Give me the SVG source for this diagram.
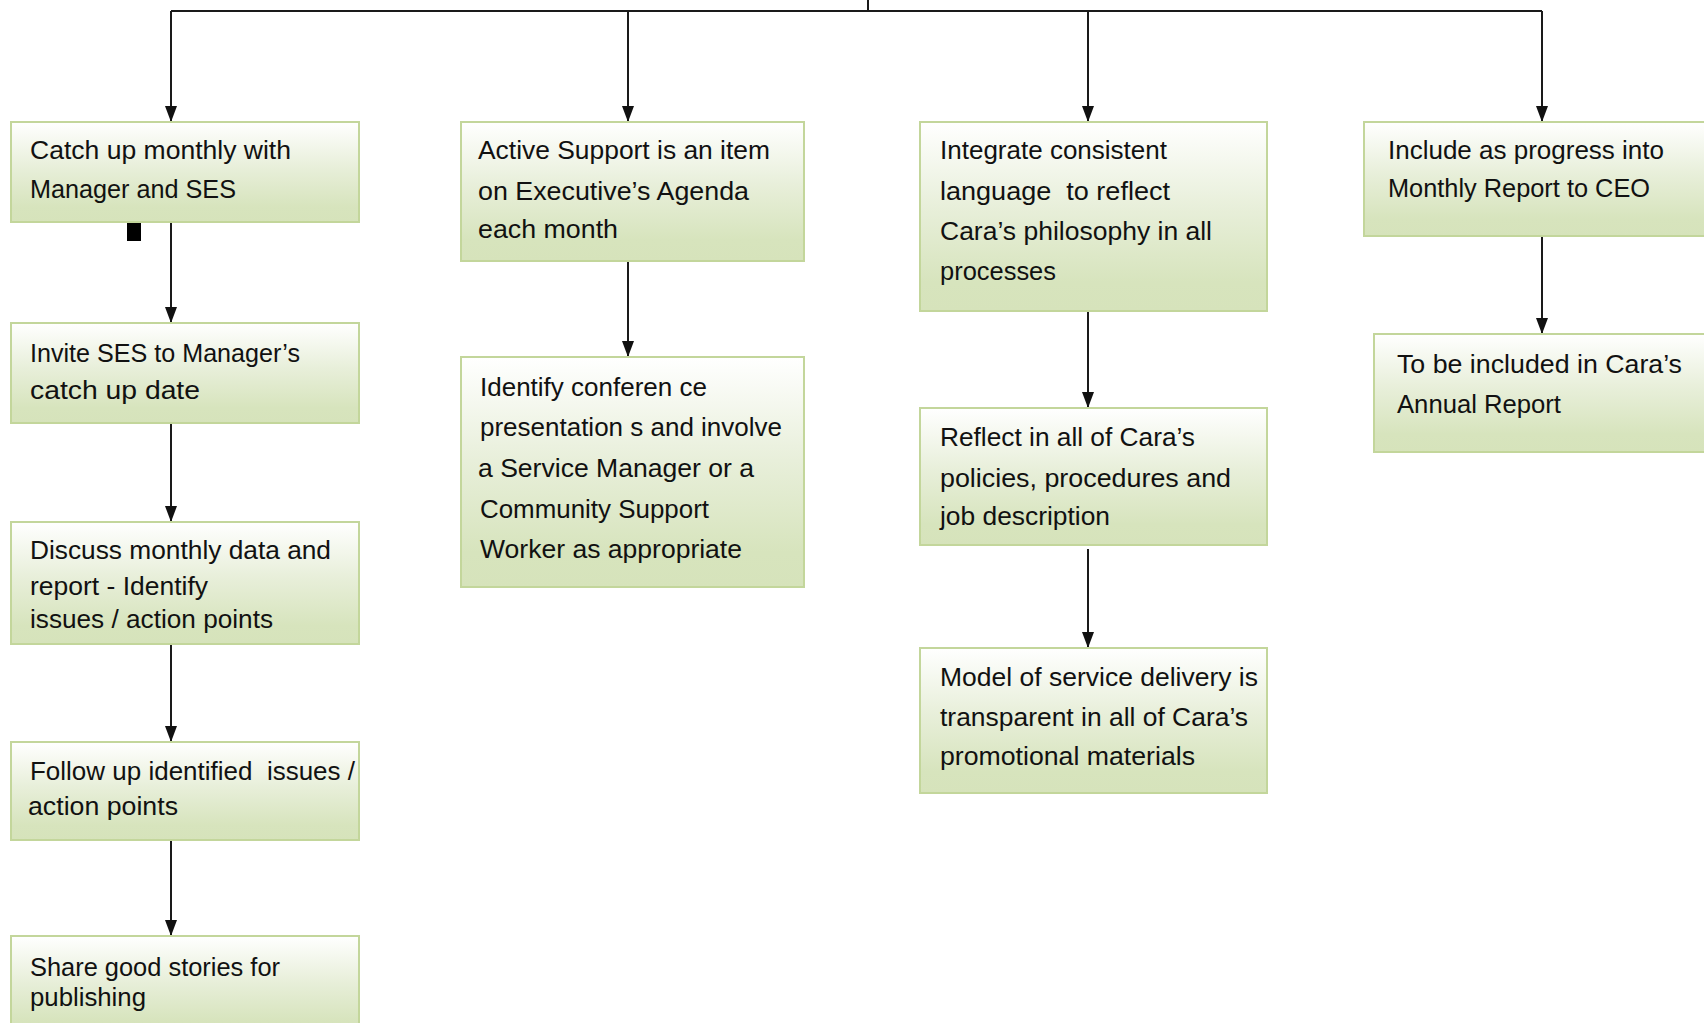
<svg xmlns="http://www.w3.org/2000/svg" width="1704" height="1023" viewBox="0 0 1704 1023">
<defs>
<linearGradient id="g" x1="0" y1="0" x2="0" y2="1">
<stop offset="0" stop-color="#ffffff"/>
<stop offset="0.45" stop-color="#e8efda"/>
<stop offset="0.85" stop-color="#d7e4bd"/>
<stop offset="1" stop-color="#d6e3bb"/>
</linearGradient>
<marker id="ah" markerUnits="userSpaceOnUse" markerWidth="16" markerHeight="12" viewBox="0 0 16 12" refX="16" refY="6" orient="auto">
<path d="M0,0 L16,6 L0,12 Z" fill="#111"/>
</marker>
<style>
.box{fill:url(#g);stroke:#c3d69b;stroke-width:2}
.t{font-family:"Century Gothic","Liberation Sans",Arial,sans-serif;font-size:25px;fill:#111;white-space:pre}
.c{fill:none;stroke:#1a1a1a;stroke-width:2}
.a{marker-end:url(#ah)}
</style>
</defs>
<rect width="1704" height="1023" fill="#ffffff"/>

<g id="connectors">
<path class="c" d="M171,11 H1542"/>
<path class="c" d="M868,0 V11"/>
<path class="c a" d="M171,11 V122"/>
<path class="c a" d="M628,11 V122"/>
<path class="c a" d="M1088,11 V122"/>
<path class="c a" d="M1542,11 V122"/>
<path class="c a" d="M171,222 V323"/>
<path class="c a" d="M171,423 V522"/>
<path class="c a" d="M171,644 V742"/>
<path class="c a" d="M171,840 V936"/>
<path class="c a" d="M628,261 V357"/>
<path class="c a" d="M1088,311 V408"/>
<path class="c a" d="M1088,549 V648"/>
<path class="c a" d="M1542,236 V334"/>
<rect x="127" y="223" width="14" height="18" fill="#000"/>
</g>

<g id="n1">
<rect class="box" x="11" y="122" width="348" height="100"/>
<text class="t" x="30" y="159" textLength="261" lengthAdjust="spacingAndGlyphs">Catch up monthly with</text>
<text class="t" x="30" y="198" textLength="206" lengthAdjust="spacingAndGlyphs">Manager and SES</text>
</g>
<g id="n2">
<rect class="box" x="11" y="323" width="348" height="100"/>
<text class="t" x="30" y="362" textLength="270" lengthAdjust="spacingAndGlyphs">Invite SES to Manager’s</text>
<text class="t" x="30" y="399" textLength="170" lengthAdjust="spacingAndGlyphs">catch up date</text>
</g>
<g id="n3">
<rect class="box" x="11" y="522" width="348" height="122"/>
<text class="t" x="30" y="559" textLength="301" lengthAdjust="spacingAndGlyphs">Discuss monthly data and</text>
<text class="t" x="30" y="595" textLength="178" lengthAdjust="spacingAndGlyphs">report - Identify</text>
<text class="t" x="30" y="628" textLength="243" lengthAdjust="spacingAndGlyphs">issues / action points</text>
</g>
<g id="n4">
<rect class="box" x="11" y="742" width="348" height="98"/>
<text class="t" x="30" y="780" textLength="325" lengthAdjust="spacingAndGlyphs">Follow up identified  issues /</text>
<text class="t" x="28" y="815" textLength="150" lengthAdjust="spacingAndGlyphs">action points</text>
</g>
<g id="n5">
<rect class="box" x="11" y="936" width="348" height="100"/>
<text class="t" x="30" y="976" textLength="250" lengthAdjust="spacingAndGlyphs">Share good stories for</text>
<text class="t" x="30" y="1006" textLength="116" lengthAdjust="spacingAndGlyphs">publishing</text>
</g>

<g id="n6">
<rect class="box" x="461" y="122" width="343" height="139"/>
<text class="t" x="478" y="159" textLength="292" lengthAdjust="spacingAndGlyphs">Active Support is an item</text>
<text class="t" x="478" y="200" textLength="271" lengthAdjust="spacingAndGlyphs">on Executive’s Agenda</text>
<text class="t" x="478" y="238" textLength="140" lengthAdjust="spacingAndGlyphs">each month</text>
</g>
<g id="n7">
<rect class="box" x="461" y="357" width="343" height="230"/>
<text class="t" x="480" y="396" textLength="227" lengthAdjust="spacingAndGlyphs">Identify conferen ce</text>
<text class="t" x="480" y="436" textLength="302" lengthAdjust="spacingAndGlyphs">presentation s and involve</text>
<text class="t" x="478" y="477" textLength="276" lengthAdjust="spacingAndGlyphs">a Service Manager or a</text>
<text class="t" x="480" y="518" textLength="229" lengthAdjust="spacingAndGlyphs">Community Support</text>
<text class="t" x="480" y="558" textLength="262" lengthAdjust="spacingAndGlyphs">Worker as appropriate</text>
</g>

<g id="n8">
<rect class="box" x="920" y="122" width="347" height="189"/>
<text class="t" x="940" y="159" textLength="227" lengthAdjust="spacingAndGlyphs">Integrate consistent</text>
<text class="t" x="940" y="200" textLength="230" lengthAdjust="spacingAndGlyphs">language  to reflect</text>
<text class="t" x="940" y="240" textLength="272" lengthAdjust="spacingAndGlyphs">Cara’s philosophy in all</text>
<text class="t" x="940" y="280" textLength="116" lengthAdjust="spacingAndGlyphs">processes</text>
</g>
<g id="n9">
<rect class="box" x="920" y="408" width="347" height="137"/>
<text class="t" x="940" y="446" textLength="255" lengthAdjust="spacingAndGlyphs">Reflect in all of Cara’s</text>
<text class="t" x="940" y="487" textLength="291" lengthAdjust="spacingAndGlyphs">policies, procedures and</text>
<text class="t" x="940" y="525" textLength="170" lengthAdjust="spacingAndGlyphs">job description</text>
</g>
<g id="n10">
<rect class="box" x="920" y="648" width="347" height="145"/>
<text class="t" x="940" y="686" textLength="318" lengthAdjust="spacingAndGlyphs">Model of service delivery is</text>
<text class="t" x="940" y="726" textLength="308" lengthAdjust="spacingAndGlyphs">transparent in all of Cara’s</text>
<text class="t" x="940" y="765" textLength="255" lengthAdjust="spacingAndGlyphs">promotional materials</text>
</g>

<g id="n11">
<rect class="box" x="1364" y="122" width="400" height="114"/>
<text class="t" x="1388" y="159" textLength="276" lengthAdjust="spacingAndGlyphs">Include as progress into</text>
<text class="t" x="1388" y="197" textLength="262" lengthAdjust="spacingAndGlyphs">Monthly Report to CEO</text>
</g>
<g id="n12">
<rect class="box" x="1374" y="334" width="400" height="118"/>
<text class="t" x="1397" y="373" textLength="285" lengthAdjust="spacingAndGlyphs">To be included in Cara’s</text>
<text class="t" x="1397" y="413" textLength="164" lengthAdjust="spacingAndGlyphs">Annual Report</text>
</g>
</svg>
